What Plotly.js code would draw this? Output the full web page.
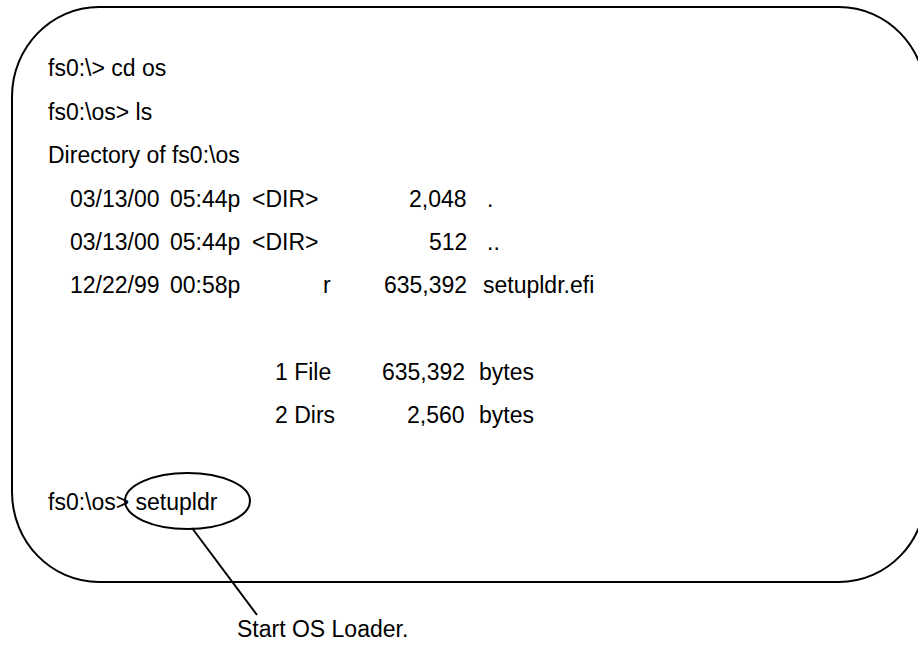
<!DOCTYPE html>
<html>
<head>
<meta charset="utf-8">
<script src="https://cdn.plot.ly/plotly-3.0.1.min.js"></script>
<style>html,body{margin:0;padding:0;background:#fff;}#chart{width:918px;height:645px;}</style>
</head>
<body>
<div id="chart"></div>
<script>
// ---- content ----
const commandLines = ["fs0:\\> cd os", "fs0:\\os> ls", "Directory of fs0:\\os"];
const dirDates = ["03/13/00", "03/13/00", "12/22/99"];
const dirTimes = ["05:44p", "05:44p", "00:58p"];
const dirTypes = ["<DIR>", "<DIR>", ""];
const dirAttrs = ["", "", "r"];
const dirSizes = ["2,048", "512", "635,392"];
const dirNames = [".", "..", "setupldr.efi"];
const summaryCounts = ["1 File", "2 Dirs"];
const summarySizes = ["635,392", "2,560"];
const summaryUnits = ["bytes", "bytes"];
const finalCommand = "fs0:\\os> setupldr";
const calloutText = "Start OS Loader.";

// ---- layout helpers ----
const FONT = {family: "Liberation Sans, Arial, sans-serif", size: 23, color: "#000"};
const ann = [];
function txt(t, x, y, anchor) {
  if (!t) return;
  ann.push({text: t, x: x, y: y, xref: "x", yref: "y", showarrow: false,
            xanchor: anchor || "left", yanchor: "middle", font: FONT, borderpad: 0});
}
const cmdY = [68, 112, 155];
commandLines.forEach((t, i) => txt(t, 47, cmdY[i]));
const rowY = [199, 242, 285];
dirDates.forEach((t, i) => {
  txt(t, 69, rowY[i]);
  txt(dirTimes[i], 169, rowY[i]);
  txt(dirTypes[i], 251, rowY[i]);
  txt(dirAttrs[i], 322, rowY[i]);
  txt(dirSizes[i], 468, rowY[i], "right");
  txt(dirNames[i], i === 2 ? 482 : 486, rowY[i]);
});
const sumY = [372, 415];
summaryCounts.forEach((t, i) => {
  txt(t, 274, sumY[i]);
  txt(summarySizes[i], 466, sumY[i], "right");
  txt(summaryUnits[i], 478, sumY[i]);
});
txt(finalCommand, 47, 502);
txt(calloutText, 236, 629);

// rounded rectangle path (cubic approximations of the corners)
const x0 = 12, x1 = 926, y0 = 7, y1 = 582, rx = 87, ry = 90, k = 0.5523;
const p = [
  `M${x0+rx},${y0}`, `L${x1-rx},${y0}`,
  `C${x1-rx+k*rx},${y0} ${x1},${y0+ry-k*ry} ${x1},${y0+ry}`,
  `L${x1},${y1-ry}`,
  `C${x1},${y1-ry+k*ry} ${x1-rx+k*rx},${y1} ${x1-rx},${y1}`,
  `L${x0+rx},${y1}`,
  `C${x0+rx-k*rx},${y1} ${x0},${y1-ry+k*ry} ${x0},${y1-ry}`,
  `L${x0},${y0+ry}`,
  `C${x0},${y0+ry-k*ry} ${x0+rx-k*rx},${y0} ${x0+rx},${y0}`, "Z"
].join(" ");

const line = {color: "#000", width: 2};
const shapes = [
  {type: "path", path: p, xref: "x", yref: "y", line: line},
  {type: "circle", x0: 125, x1: 250, y0: 473, y1: 529, xref: "x", yref: "y", line: line},
  {type: "line", x0: 192, y0: 528, x1: 257, y1: 615, xref: "x", yref: "y", line: line}
];

const layout = {
  width: 918, height: 645,
  margin: {l: 0, r: 0, t: 0, b: 0, pad: 0},
  paper_bgcolor: "#fff", plot_bgcolor: "#fff",
  showlegend: false,
  xaxis: {range: [0, 918], visible: false, fixedrange: true},
  yaxis: {range: [645, 0], visible: false, fixedrange: true},
  shapes: shapes,
  annotations: ann
};
Plotly.newPlot("chart", [], layout, {staticPlot: true, displayModeBar: false});
</script>
</body>
</html>
